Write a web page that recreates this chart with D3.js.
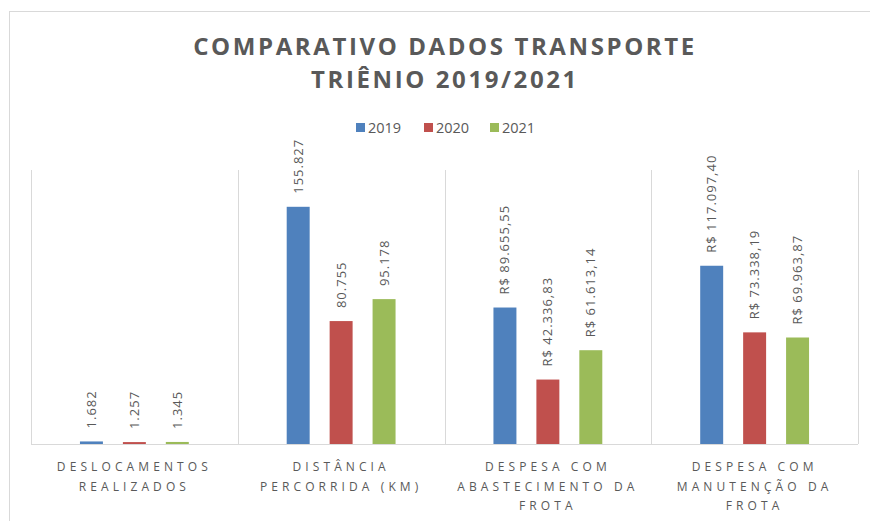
<!DOCTYPE html>
<html>
<head>
<meta charset="utf-8"/>
<script src="https://cdn.jsdelivr.net/npm/d3@7"></script>
<style>
  body { margin: 0; background: #fff; }
  text { font-family: "Open Sans", "Liberation Sans", sans-serif; fill: #595959; }
</style>
</head>
<body>
<script>
// chart data
var categories = [
  ["DESLOCAMENTOS", "REALIZADOS"],
  ["DISTÂNCIA", "PERCORRIDA (KM)"],
  ["DESPESA COM", "ABASTECIMENTO DA", "FROTA"],
  ["DESPESA COM", "MANUTENÇÃO DA", "FROTA"]
];
var years = ["2019", "2020", "2021"];
var values2019 = [1682, 155827, 89655.55, 117097.40];
var values2020 = [1257, 80755, 42336.83, 73338.19];
var values2021 = [1345, 95178, 61613.14, 69963.87];
var isMoney = [false, false, true, true];
var colors = ["#4f81bd", "#c0504d", "#9bbb59"];

var width = 870, height = 521;
var plotLeft = 31, plotRight = 858, plotTop = 170, base = 444;

var br = d3.formatLocale({decimal: ",", thousands: ".", grouping: [3], currency: ["R$ ", ""]});
var fmtInt = br.format(",.0f");
var fmtMoney = br.format("$,.2f");

var series = [values2019, values2020, values2021];

var svg = d3.select("body").append("svg")
  .attr("width", width).attr("height", height);

// outer chart border
svg.append("rect")
  .attr("x", 9.5).attr("y", 11.5)
  .attr("width", 900).attr("height", 600)
  .attr("fill", "none").attr("stroke", "#d9d9d9");

var x0 = d3.scaleBand()
  .domain(d3.range(categories.length))
  .range([plotLeft, plotRight]);
var x1 = d3.scaleBand()
  .domain(years)
  .range([0, x0.bandwidth()])
  .paddingInner(0.465)
  .paddingOuter(1.14);
var y = d3.scaleLinear()
  .domain([0, 180000])
  .range([base, plotTop]);

// vertical separators between categories
var seps = d3.range(categories.length + 1).map(function(i) {
  return i < categories.length ? x0(i) : x0(i - 1) + x0.bandwidth();
});
svg.selectAll("line.sep")
  .data(seps).enter().append("line")
  .attr("class", "sep")
  .attr("x1", function(d) { return Math.round(d) + 0.5; })
  .attr("x2", function(d) { return Math.round(d) + 0.5; })
  .attr("y1", plotTop).attr("y2", base)
  .attr("stroke", "#d9d9d9");

// bars
var groups = svg.selectAll("g.cat")
  .data(categories).enter().append("g")
  .attr("class", "cat")
  .attr("transform", function(d, i) { return "translate(" + x0(i) + ",0)"; });

groups.each(function(c, i) {
  var g = d3.select(this);
  var rows = years.map(function(yr, k) { return {year: yr, k: k, v: series[k][i]}; });
  g.selectAll("rect")
    .data(rows).enter().append("rect")
    .attr("x", function(d) { return x1(d.year); })
    .attr("width", x1.bandwidth())
    .attr("y", function(d) { return y(d.v); })
    .attr("height", function(d) { return base - y(d.v); })
    .attr("fill", function(d) { return colors[d.k]; });
  g.selectAll("text.lbl")
    .data(rows).enter().append("text")
    .attr("class", "lbl")
    .attr("transform", function(d) {
      return "translate(" + (x1(d.year) + x1.bandwidth() / 2 + 4.5) + "," + (y(d.v) - 13) + ") rotate(-90)";
    })
    .attr("font-size", "13px")
    .attr("letter-spacing", "1px")
    .text(function(d) { return isMoney[i] ? fmtMoney(d.v) : fmtInt(d.v); });
});

// baseline
svg.append("line")
  .attr("x1", plotLeft).attr("x2", plotRight)
  .attr("y1", base + 0.5).attr("y2", base + 0.5)
  .attr("stroke", "#d9d9d9");

// category labels
groups.each(function(c, i) {
  d3.select(this).selectAll("text.cat")
    .data(c).enter().append("text")
    .attr("class", "cat")
    .attr("x", x0.bandwidth() / 2)
    .attr("y", function(d, j) { return 471 + j * 19.5; })
    .attr("text-anchor", "middle")
    .attr("font-size", "12px")
    .attr("letter-spacing", "4.1px")
    .text(function(d) { return d; });
});

// title
var title = ["COMPARATIVO DADOS TRANSPORTE", "TRIÊNIO 2019/2021"];
svg.selectAll("text.title")
  .data(title).enter().append("text")
  .attr("class", "title")
  .attr("x", 445)
  .attr("y", function(d, i) { return 55 + i * 33; })
  .attr("text-anchor", "middle")
  .attr("font-size", "24px")
  .attr("font-weight", "bold")
  .attr("letter-spacing", "2.6px")
  .text(function(d) { return d; });

// legend
var legendX = [356, 424, 490];
var lg = svg.selectAll("g.legend")
  .data(years).enter().append("g")
  .attr("class", "legend")
  .attr("transform", function(d, i) { return "translate(" + legendX[i] + ",123)"; });
lg.append("rect")
  .attr("width", 9).attr("height", 9)
  .attr("fill", function(d, i) { return colors[i]; });
lg.append("text")
  .attr("x", 12).attr("y", 10)
  .attr("font-size", "14.5px")
  .text(function(d) { return d; });
</script>
</body>
</html>
